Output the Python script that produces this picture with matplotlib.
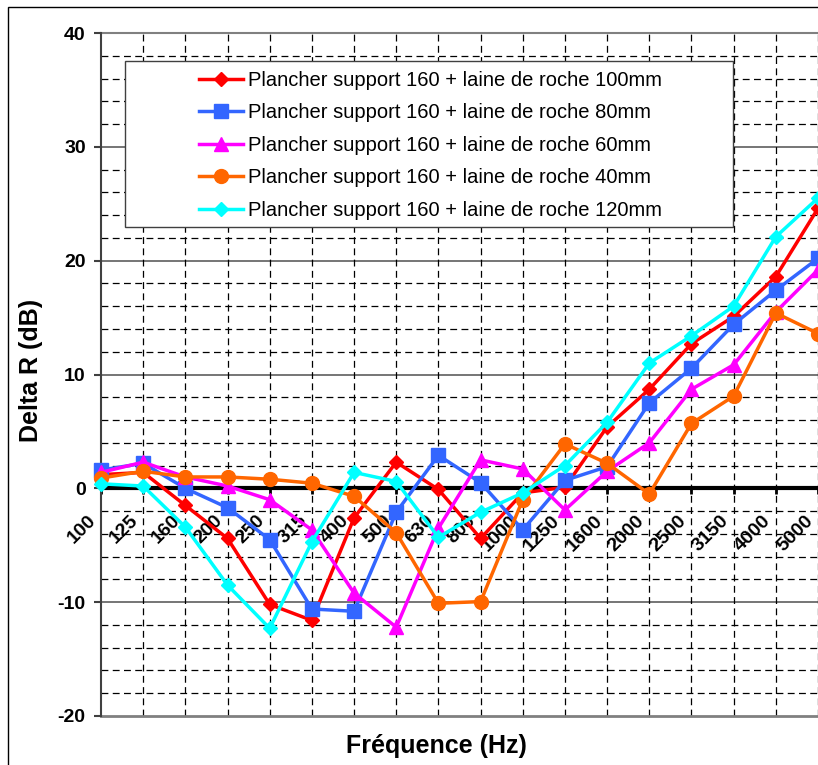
import numpy as np
import matplotlib
matplotlib.use('Agg')
import matplotlib.pyplot as plt
from matplotlib.patches import Rectangle
from matplotlib.transforms import ScaledTranslation

plt.rcParams['font.family'] = ['Liberation Sans', 'DejaVu Sans']
plt.rcParams['axes.unicode_minus'] = False

# Bandes de tiers d'octave
freqs = ['100', '125', '160', '200', '250', '315', '400', '500', '630', '800',
         '1000', '1250', '1600', '2000', '2500', '3150', '4000', '5000']

r_100mm = [1.2, 1.4, -1.5, -4.4, -10.2, -11.6, -2.6, 2.3, -0.1, -4.4,
           -0.4, 0.1, 5.4, 8.7, 12.7, 15.1, 18.6, 24.6]
r_80mm = [1.6, 2.2, 0.0, -1.7, -4.5, -10.6, -10.8, -2.1, 2.9, 0.5,
          -3.65, 0.7, 1.9, 7.5, 10.55, 14.4, 17.4, 20.2]
r_60mm = [1.4, 2.3, 1.0, 0.2, -1.0, -3.65, -9.2, -12.2, -3.5, 2.5,
          1.7, -1.9, 1.5, 4.0, 8.7, 10.85, 15.5, 19.2]
r_40mm = [0.9, 1.5, 1.0, 1.0, 0.8, 0.45, -0.7, -3.9, -10.1, -9.95,
          -1.0, 3.9, 2.2, -0.5, 5.7, 8.1, 15.4, 13.6]
r_120mm = [0.4, 0.2, -3.4, -8.5, -12.3, -4.7, 1.4, 0.6, -4.3, -2.1,
           -0.4, 2.0, 5.8, 11.0, 13.4, 16.0, 22.1, 25.5]

series = [
    ("Plancher support 160 + laine de roche 100mm", r_100mm, '#FF0000', 'D', 7.2),
    ("Plancher support 160 + laine de roche 80mm", r_80mm, '#3366FF', 's', 10),
    ("Plancher support 160 + laine de roche 60mm", r_60mm, '#FF00FF', '^', 10.5),
    ("Plancher support 160 + laine de roche 40mm", r_40mm, '#FF6600', 'o', 10),
    ("Plancher support 160 + laine de roche 120mm", r_120mm, '#00FFFF', 'D', 7.2),
]

W, H = 818, 765
fig = plt.figure(figsize=(W / 100, H / 100), dpi=100)
ax = fig.add_axes([101 / W, 1 - 716 / H, 717 / W, (716 - 33) / H])

# cadre extérieur du graphique (coupé à droite et en bas)
fig.patches.append(Rectangle((8 / W, -0.1), 1.2, 1 - 7 / H + 0.1, transform=fig.transFigure,
                             fill=False, edgecolor='black', linewidth=1))

xs = np.arange(len(freqs))

# axe des x sur la ligne 0 (avant de régler les étiquettes)
ax.spines['bottom'].set_position(('data', 0))
ax.spines['bottom'].set_linewidth(3)
ax.spines['bottom'].set_color('black')
ax.spines['bottom'].set_zorder(2)
ax.spines['left'].set_linewidth(1.5)
ax.spines['left'].set_color('#404040')
ax.spines['top'].set_visible(False)
ax.spines['right'].set_visible(False)

# grille
dash = (0, (5.5, 3.5))
for yv in np.arange(-18, 40, 2):
    if yv % 10 == 0:
        continue
    ax.axhline(yv, color='black', linewidth=0.9, linestyle=dash, zorder=1)
for yv in [-10, 10, 20, 30]:
    ax.axhline(yv, color='#505050', linewidth=1.1, zorder=1)
for xv in xs[1:]:
    ax.axvline(xv, color='black', linewidth=0.9, linestyle=dash, zorder=1)
ax.axhline(40, color='#808080', linewidth=1.5, zorder=1, clip_on=False)
ax.axhline(-20, color='#808080', linewidth=2, zorder=1, clip_on=False)

for label, vals, col, mk, ms in series:
    ax.plot(xs, vals, color=col, marker=mk, markersize=ms, linewidth=2.5,
            label=label, zorder=3, clip_on=False)

ax.set_xlim(0, 17)
ax.set_ylim(-20, 40)
ax.set_yticks([-20, -10, 0, 10, 20, 30, 40])
ax.tick_params(axis='y', direction='out', length=5, width=1.5, color='#404040',
               labelsize=14, pad=6)
for t in ax.get_yticklabels():
    t.set_fontweight('bold')

ax.set_xticks(xs)
ax.tick_params(axis='x', direction='out', length=4, width=2, color='black', pad=13)
ax.set_xticklabels(freqs, rotation=45, ha='right', va='top', fontsize=14, fontweight='bold')
offset = ScaledTranslation(-1 / 72, 0, fig.dpi_scale_trans)
for t in ax.get_xticklabels():
    t.set_transform(t.get_transform() + offset)

fig.text(31 / W, 1 - 370 / H, 'Delta R (dB)', rotation=90, ha='center', va='center',
         fontsize=18, fontweight='bold')
fig.text(436 / W, 1 - 746 / H, 'Fréquence (Hz)', ha='center', va='center',
         fontsize=18, fontweight='bold')

# légende
ax.add_patch(Rectangle((125 / W, 1 - 227 / H), 608 / W, 166 / H, transform=fig.transFigure,
                       facecolor='white', edgecolor='#404040', linewidth=1, zorder=5,
                       clip_on=False))
leg = ax.legend(loc='upper left', bbox_to_anchor=(199 / W, 1 - 71 / H),
                bbox_transform=fig.transFigure, frameon=False, fontsize=14.5,
                borderpad=0, borderaxespad=0, handlelength=2.2, handletextpad=0.25,
                labelspacing=0.67)
leg.set_zorder(6)

fig.savefig('out.png', dpi=100)
